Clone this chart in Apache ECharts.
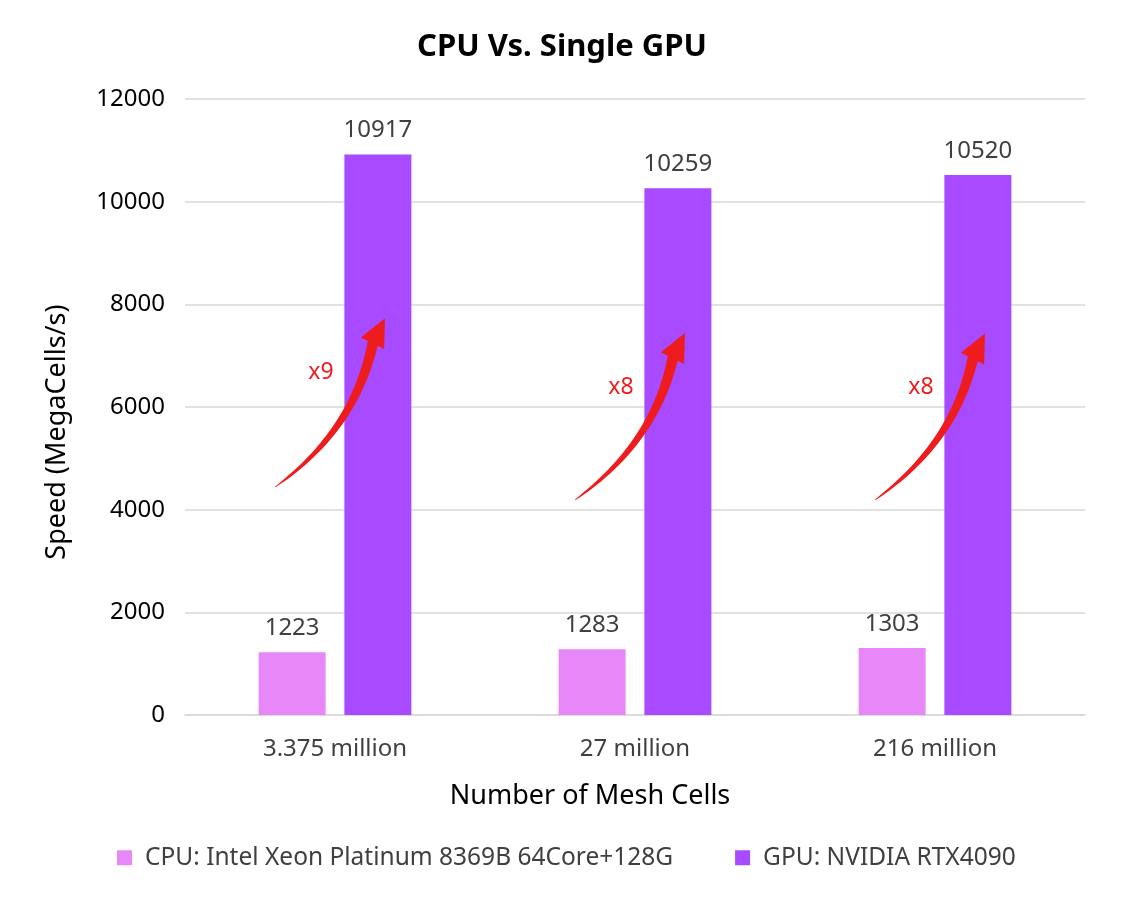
<!DOCTYPE html>
<html>
<head>
<meta charset="utf-8">
<script src="https://cdn.jsdelivr.net/npm/echarts@6/dist/echarts.min.js"></script>
<style>
  html, body { margin: 0; padding: 0; background: #fff; }
  #chart { width: 1132px; height: 900px; }
</style>
</head>
<body>
<div id="chart"></div>
<script>
const categories = ['3.375 million', '27 million', '216 million']
const cpuSpeed = [1223, 1283, 1303]
const gpuSpeed = [10917, 10259, 10520]
const speedups = ['x9', 'x8', 'x8']
// arrow anchor values on the y scale: start, tip, label
const arrowStart = [4440, 4190, 4190]
const arrowTip = [7730, 7440, 7430]
const labelValue = [6680, 6390, 6390]

const font = '"Noto Sans", "Noto Sans CJK SC", sans-serif'
const cpuColor = '#e887f7'
const gpuColor = '#a84aff'

const chart = echarts.init(document.getElementById('chart'))

const option = {
  animation: false,
  textStyle: { fontFamily: font },
  title: {
    text: 'CPU Vs. Single GPU',
    left: 412,
    top: 27,
    textStyle: { fontSize: 31, fontWeight: 'bold', color: '#000', fontFamily: font },
  },
  legend: {
    bottom: 25,
    left: 112,
    itemWidth: 15,
    itemHeight: 15,
    itemGap: 62,
    icon: 'rect',
    textStyle: { fontSize: 24.5, color: '#404040', fontFamily: font, padding: [0, 0, 0, 8] },
  },
  grid: { left: 185, right: 47, top: 99, bottom: 185 },
  xAxis: {
    type: 'category',
    data: categories,
    name: 'Number of Mesh Cells',
    nameLocation: 'middle',
    nameGap: 68,
    nameTextStyle: { fontSize: 27, color: '#000', padding: [0, 90, 0, 0] },
    axisLine: { lineStyle: { color: '#d9d9d9', width: 1.5 } },
    axisTick: { show: false },
    axisLabel: { fontSize: 24, color: '#404040', margin: 22 },
  },
  yAxis: {
    type: 'value',
    min: 0,
    max: 12000,
    interval: 2000,
    name: 'Speed (MegaCells/s)',
    nameLocation: 'middle',
    nameGap: 114,
    nameTextStyle: { fontSize: 27, color: '#000', padding: [0, 50, 0, 0] },
    axisLabel: { fontSize: 24, color: '#000', margin: 20, formatter: v => String(v) },
    splitLine: { lineStyle: { color: '#d9d9d9', width: 1.5 } },
  },
  series: [
    {
      name: 'CPU: Intel Xeon Platinum 8369B 64Core+128G',
      type: 'bar',
      data: cpuSpeed,
      barWidth: 67,
      barGap: '28%',
      itemStyle: { color: cpuColor },
      label: { show: true, position: 'top', distance: 12, fontSize: 24, color: '#404040' },
    },
    {
      name: 'GPU: NVIDIA RTX4090',
      type: 'bar',
      data: gpuSpeed,
      barWidth: 67,
      itemStyle: { color: gpuColor },
      label: { show: true, position: 'top', distance: 12, fontSize: 24, color: '#404040' },
    },
  ],
}

chart.setOption(option)

// curved red arrows, placed through the chart's own scales
function bez(p0, p1, p2, t) {
  const u = 1 - t
  return [
    u * u * p0[0] + 2 * u * t * p1[0] + t * t * p2[0],
    u * u * p0[1] + 2 * u * t * p1[1] + t * t * p2[1],
  ]
}

const graphics = []
categories.forEach((c, i) => {
  const center = chart.convertToPixel({ seriesIndex: 0 }, [i, 0])[0]
  const yOf = v => chart.convertToPixel({ seriesIndex: 0 }, [i, v])[1]
  const p0 = [center - 60, yOf(arrowStart[i])]
  const tip = [center + 50, yOf(arrowTip[i])]
  const p2 = [center + 38, tip[1] + 24]
  const p1 = [center + 20, p0[1] - 57]

  const left = []
  const right = []
  const n = 30
  for (let k = 0; k <= n; k++) {
    const t = k / n
    const p = bez(p0, p1, p2, t)
    const a = bez(p0, p1, p2, Math.max(0, t - 0.01))
    const b = bez(p0, p1, p2, Math.min(1, t + 0.01))
    let dx = b[0] - a[0], dy = b[1] - a[1]
    const len = Math.hypot(dx, dy) || 1
    dx /= len; dy /= len
    const w = 0.3 + 5 * Math.pow(t, 0.7)
    left.push([p[0] - dy * w, p[1] + dx * w])
    right.unshift([p[0] + dy * w, p[1] - dx * w])
  }
  graphics.push({
    type: 'polygon',
    shape: { points: left.concat(right) },
    style: { fill: '#ee1c1c' },
    z: 10,
  })
  // arrow head
  let hx = tip[0] - p2[0], hy = tip[1] - p2[1]
  const hl = Math.hypot(hx, hy)
  hx /= hl; hy /= hl
  const base = [tip[0] - hx * 28, tip[1] - hy * 28]
  graphics.push({
    type: 'polygon',
    shape: {
      points: [
        tip,
        [base[0] - hy * 13, base[1] + hx * 13],
        [base[0] + hy * 13, base[1] - hx * 13],
      ],
    },
    style: { fill: '#ee1c1c' },
    z: 10,
  })
  graphics.push({
    type: 'text',
    x: center - 14,
    y: yOf(labelValue[i]),
    style: {
      text: speedups[i],
      fill: '#ee1c1c',
      fontSize: 23,
      fontFamily: font,
      align: 'center',
      verticalAlign: 'middle',
    },
    z: 10,
  })
})

chart.setOption({ graphic: graphics })
</script>
</body>
</html>
